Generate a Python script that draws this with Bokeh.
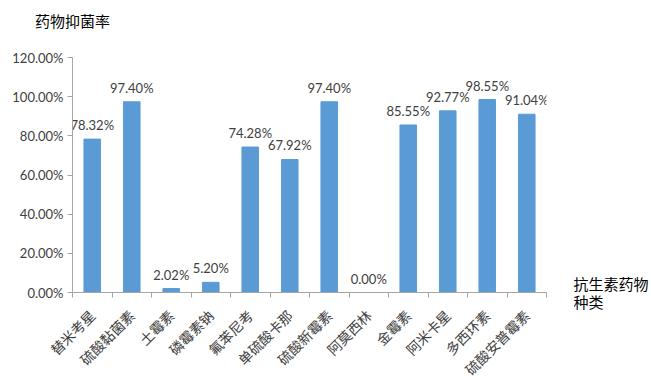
import math
from bokeh.plotting import figure
from bokeh.models import (Range1d, FixedTicker, NumeralTickFormatter, ColumnDataSource,
                          LinearAxis)
from bokeh.core.properties import value
from bokeh.embed import file_html
from bokeh.resources import INLINE

categories = ["替米考星", "硫酸黏菌素", "土霉素", "磷霉素钠", "氟苯尼考", "单硫酸卡那",
              "硫酸新霉素", "阿莫西林", "金霉素", "阿米卡星", "多西环素", "硫酸安普霉素"]
rates_pct = [78.32, 97.40, 2.02, 5.20, 74.28, 67.92, 97.40, 0.00, 85.55, 92.77, 98.55, 91.04]
y_ticks = [0.0, 0.2, 0.4, 0.6, 0.8, 1.0, 1.2]
title_text = "药物抑菌率"
xlabel_text = "抗生素药物\n种类"

n = len(categories)
xs = [i + 0.5 for i in range(n)]
ys = [v / 100.0 for v in rates_pct]
labels = ["%.2f%%" % v for v in rates_pct]
src = ColumnDataSource(dict(x=xs, y=ys, t=labels))

p = figure(width=651, height=389, output_backend="svg", toolbar_location=None,
           x_range=Range1d(0, n), y_range=Range1d(0, 1.2),
           min_border_left=72, min_border_right=101, min_border_top=57, min_border_bottom=97)
p.outline_line_color = None
p.xgrid.grid_line_color = None
p.ygrid.grid_line_color = None

p.vbar(x="x", top="y", width=0.42, bottom=0, source=src, fill_color="#5B9BD5", line_color="#5B9BD5")
p.text(x="x", y="y", text="t", source=src, text_align="center", text_baseline="bottom",
       y_offset=-6, text_font=value("Lato"), text_font_size="13px", text_color="#404040")

axis_col = "#A6A6A6"
# y axis
p.yaxis.ticker = FixedTicker(ticks=y_ticks)
p.yaxis.formatter = NumeralTickFormatter(format="0.00%")
p.yaxis.axis_line_color = axis_col
p.yaxis.major_tick_line_color = axis_col
p.yaxis.major_tick_out = 5
p.yaxis.major_tick_in = 0
p.yaxis.minor_tick_line_color = None
p.yaxis.major_label_text_font = "Lato"
p.yaxis.major_label_text_font_size = "13px"
p.yaxis.major_label_text_color = "#404040"
p.yaxis.major_label_standoff = 4

# x axis
p.xaxis.ticker = FixedTicker(ticks=xs, minor_ticks=list(range(n + 1)))
p.xaxis.major_label_overrides = {x: c for x, c in zip(xs, categories)}
p.xaxis.major_label_orientation = math.pi / 4
p.xaxis.axis_line_color = axis_col
p.xaxis.major_tick_line_color = None
p.xaxis.minor_tick_line_color = axis_col
p.xaxis.minor_tick_out = 5
p.xaxis.minor_tick_in = 0
p.xaxis.major_label_text_font = "Noto Sans CJK SC"
p.xaxis.major_label_text_font_size = "14px"
p.xaxis.major_label_text_color = "#404040"
p.xaxis.major_label_standoff = 14

# x-axis title placed to the right of the axis end
rax = LinearAxis(ticker=FixedTicker(ticks=[0.0]), major_label_overrides={0: xlabel_text})
rax.axis_line_color = None
rax.major_tick_line_color = None
rax.minor_tick_line_color = None
rax.major_label_standoff = 21
rax.major_label_text_font = "Noto Sans CJK SC"
rax.major_label_text_font_size = "15px"
rax.major_label_text_line_height = 0.9
rax.major_label_text_color = "#000000"
p.add_layout(rax, "right")

# y-axis title at top-left (above the axis origin)
tax = LinearAxis(ticker=FixedTicker(ticks=[0.0]), major_label_overrides={0: title_text})
tax.axis_line_color = None
tax.major_tick_line_color = None
tax.minor_tick_line_color = None
tax.major_label_standoff = 21
tax.major_label_text_font = "Noto Sans CJK SC"
tax.major_label_text_font_size = "15px"
tax.major_label_text_color = "#000000"
p.add_layout(tax, "above")

open("out.html", "w").write(file_html(p, INLINE))
